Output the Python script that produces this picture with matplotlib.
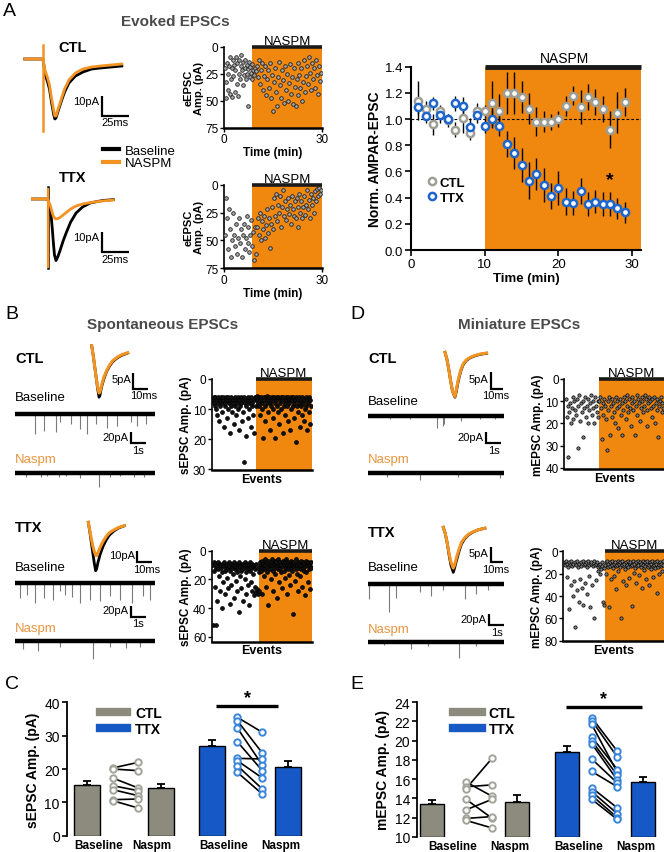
import numpy as np
import matplotlib
matplotlib.use('Agg')
import matplotlib.pyplot as plt
from matplotlib.lines import Line2D

# ======================= DATA =======================
# --- Panel A: evoked EPSC example traces (time ms, current pA) ---
evk_ctl_t = [-17, -1, 0, 2, 4, 6, 8, 10, 11, 12, 14, 17, 20, 24, 30, 37, 45, 53, 63, 73]
evk_ctl_base = [0, 0, 0, -8, -11, -15, -22, -28, -30, -29.5, -26, -21, -16.5, -12, -8.5, -6.5, -5, -4.5, -4, -3.5]
evk_ctl_nas = [0, 0, 0, -6, -9, -13, -20, -26, -28.5, -28.5, -25, -20, -15, -10.5, -7, -5, -4, -3.5, -3, -2.5]
evk_ttx_t = [-14.5, -1, 0, 1, 2, 3, 4, 5, 6, 7.4, 9, 11, 14, 17, 21, 26, 32, 39, 50, 60.5]
evk_ttx_base = [0, 0, 0, -3, -5, -9, -15, -22, -28, -30.8, -29, -26, -21, -16.7, -11.5, -7, -4, -2, -0.8, -0.3]
evk_ttx_nas = [0, 0, 0, -2, -3, -5, -7, -8.5, -9.5, -10, -9.8, -9.3, -8, -6.7, -5, -3.5, -2.5, -1.8, -1, -0.5]

# --- Panel A: eEPSC amplitude vs time (min, pA) ---
eA_ctl_t = [0.3, 0.5, 0.7, 0.9, 1.1, 1.3, 1.5, 1.7, 1.9, 2.1, 2.3, 2.5, 2.7, 2.9, 3.1, 3.3, 3.5, 3.7, 3.9, 4.1,
            4.3, 4.5, 4.7, 4.9, 5.1, 5.3, 5.5, 5.7, 5.9, 6.1, 6.3, 6.5, 6.7, 6.9, 7.1, 7.3, 7.5, 7.7, 7.9, 8.1,
            8.3, 8.5, 8.7, 9.0, 9.3, 9.6, 9.9, 10.2, 10.5, 10.8, 11.1, 11.4, 11.7, 12.0, 12.3, 12.6, 12.9, 13.2,
            13.5, 13.8, 14.1, 14.4, 14.7, 15.0, 15.3, 15.6, 15.9, 16.2, 16.5, 16.8, 17.1, 17.4, 17.7, 18.0, 18.3,
            18.6, 18.9, 19.2, 19.5, 19.8, 20.1, 20.4, 20.7, 21.0, 21.3, 21.6, 21.9, 22.2, 22.5, 22.8, 23.1, 23.4,
            23.7, 24.0, 24.3, 24.6, 24.9, 25.2, 25.5, 25.8, 26.1, 26.4, 26.7, 27.0, 27.3, 27.6, 27.9, 28.2, 28.5,
            28.8, 29.1, 29.4, 29.7]
eA_ctl_amp = [20, 33, 48, 15, 40, 25, 18, 44, 10, 30, 20, 47, 12, 27, 17, 42, 22, 10, 35, 15,
              46, 25, 12, 30, 18, 8, 22, 36, 14, 26, 20, 12, 30, 17, 25, 55, 21, 14, 28, 19,
              24, 16, 30, 22, 26, 20, 23, 18, 28, 12, 35, 22, 15, 40, 27, 18, 45, 30, 22, 38,
              15, 48, 26, 60, 33, 20, 42, 55, 28, 14, 36, 48, 22, 31, 52, 18, 40, 25, 50, 34,
              16, 44, 28, 53, 20, 37, 55, 30, 15, 45, 26, 38, 20, 50, 33, 12, 42, 27, 18, 35,
              10, 24, 40, 15, 30, 20, 38, 12, 26, 44, 18, 32, 24]
eA_ttx_t = [0.3, 0.6, 0.9, 1.2, 1.5, 1.8, 2.1, 2.4, 2.7, 3.0, 3.3, 3.6, 3.9, 4.2, 4.5, 4.8, 5.1, 5.4, 5.7, 6.0,
            6.3, 6.6, 6.9, 7.2, 7.5, 7.8, 8.1, 8.4, 8.7, 9.0, 9.3, 9.6, 9.9, 10.2, 10.5, 10.8, 11.1, 11.4, 11.7,
            12.0, 12.3, 12.6, 12.9, 13.2, 13.5, 13.8, 14.1, 14.4, 14.7, 15.0, 15.3, 15.6, 15.9, 16.2, 16.5, 16.8,
            17.1, 17.4, 17.7, 18.0, 18.3, 18.6, 18.9, 19.2, 19.5, 19.8, 20.1, 20.4, 20.7, 21.0, 21.3, 21.6, 21.9,
            22.2, 22.5, 22.8, 23.1, 23.4, 23.7, 24.0, 24.3, 24.6, 24.9, 25.2, 25.5, 25.8, 26.1, 26.4, 26.7, 27.0,
            27.3, 27.6, 27.9, 28.2, 28.5, 28.8, 29.1, 29.4, 29.7]
eA_ttx_amp = [45, 12, 30, 58, 22, 40, 65, 50, 25, 45, 55, 35, 62, 48, 30, 52, 40, 65, 45, 35,
              58, 48, 28, 52, 38, 60, 45, 32, 55, 42, 68, 38, 62, 38, 30, 45, 25, 50, 33, 40,
              28, 48, 36, 22, 43, 30, 57, 35, 20, 40, 12, 28, 8, 33, 18, 25, 10, 38, 20, 5,
              28, 15, 32, 22, 12, 26, 18, 35, 10, 22, 28, 15, 30, 12, 20, 38, 8, 25, 15, 30,
              20, 10, 27, 18, 5, 22, 14, 30, 8, 18, 12, 25, 6, 15, 4, 10, 3, 8, 5]

# --- Panel A: normalized AMPAR-EPSC time course ---
norm_time = list(range(1, 30))
ctl_norm = [1.14, 1.08, 0.96, 1.06, 0.99, 0.92, 1.01, 0.89, 1.06, 1.06, 1.12, 1.06, 1.20, 1.20, 1.17,
            1.08, 0.98, 0.98, 0.98, 1.00, 1.10, 1.18, 1.09, 1.17, 1.13, 1.08, 0.92, 1.05, 1.13]
ctl_sem = [0.15, 0.06, 0.08, 0.05, 0.05, 0.06, 0.12, 0.05, 0.06, 0.05, 0.17, 0.13, 0.16, 0.16, 0.12,
           0.12, 0.11, 0.08, 0.06, 0.06, 0.08, 0.07, 0.13, 0.10, 0.10, 0.10, 0.14, 0.16, 0.11]
ttx_norm = [1.09, 1.02, 1.12, 1.03, 1.00, 1.12, 1.10, 0.94, 1.03, 0.95, 1.00, 0.95, 0.81, 0.74, 0.65,
            0.53, 0.58, 0.50, 0.41, 0.47, 0.37, 0.36, 0.45, 0.35, 0.37, 0.35, 0.35, 0.32, 0.29]
ttx_sem = [0.05, 0.05, 0.05, 0.06, 0.04, 0.06, 0.07, 0.07, 0.06, 0.06, 0.07, 0.08, 0.10, 0.12, 0.13,
           0.14, 0.12, 0.13, 0.10, 0.13, 0.10, 0.09, 0.10, 0.09, 0.09, 0.09, 0.09, 0.08, 0.08]

# --- Panels B/D: averaged mini traces (ms, pA) ---
sB_t = [0, 1, 2, 3, 4, 4.9, 5.5, 6.5, 8, 10, 12, 14, 17, 20, 24]
sB_ctl_base = [0, -3, -6.5, -10, -13.5, -16.1, -15.5, -13, -10.5, -8, -6.3, -5, -3.8, -3, -2.3]
sB_ctl_nas = [0, -3, -6.5, -10, -13, -14.8, -14.5, -12.5, -10, -7.7, -6, -4.7, -3.6, -2.8, -2.2]
sB_ttx_base = [0, -8, -17, -26, -35, -41.4, -40, -34, -27, -20, -15, -11, -7.5, -5, -3]
sB_ttx_nas = [0, -7, -14, -20, -25, -28, -28.5, -26, -21, -16, -12, -9, -6.5, -4.5, -2.9]
mD_t = [0, 1.5, 3, 4.5, 6, 7.9, 9, 10.5, 12.5, 14.5, 17, 20, 24, 28, 33]
mD_ctl_base = [0, -2, -5, -8.5, -11.5, -13.2, -11.5, -8.5, -5.5, -3.6, -2.4, -1.6, -1, -0.6, -0.3]
mD_ctl_nas = [0, -2, -5, -8.5, -11.5, -13.0, -11, -8, -5.2, -3.4, -2.2, -1.5, -0.9, -0.5, -0.2]
mD_ttx_base = [0, -2, -5, -9, -12.5, -15, -13.5, -11, -8, -5.5, -3.8, -2.5, -1.5, -0.8, -0.3]
mD_ttx_nas = [0, -2, -5, -8.5, -11.5, -13.6, -12.5, -10, -7.3, -5, -3.5, -2.3, -1.4, -0.8, -0.3]

# --- Panels B/D: event times (s) and amplitudes (pA) in the continuous recordings ---
B_ctl_base_t = [1.3, 1.9, 2.7, 3.0, 3.7, 4.3, 4.8, 5.4, 6.1, 6.8, 7.7, 8.1, 8.7]
B_ctl_base_a = [36, 30, 33, 14, 18, 27, 36, 18, 25, 21, 14, 22, 18]
B_ctl_nas_t = [0.7, 1.7, 2.1, 2.9, 3.4, 4.3, 5.6, 6.3, 7.0, 7.9, 8.6]
B_ctl_nas_a = [9, 8, 6, 9, 6, 10, 27, 8, 6, 9, 8]
B_ttx_base_t = [0.33, 0.78, 1.33, 1.9, 2.56, 3.0, 3.33, 3.78, 4.33, 5.0, 5.67, 6.33, 7.0, 7.78, 8.56, 9.0]
B_ttx_base_a = [28, 22, 36, 27, 30, 15, 22, 25, 36, 30, 33, 24, 30, 36, 24, 30]
B_ttx_nas_t = [0.55, 1.55, 3.0, 5.2, 6.3, 7.4, 8.3]
B_ttx_nas_a = [15, 18, 10, 33, 10, 12, 10]
D_ctl_base_t = [1.5, 2.8, 4.6, 5.0, 5.1, 6.2, 7.5, 8.5]
D_ctl_base_a = [6, 6, 22, 18, 15, 9, 6, 6]
D_ctl_nas_t = [1.3, 3.5, 6.0, 8.8]
D_ctl_nas_a = [8, 13, 9, 10]
D_ttx_base_t = [0.13, 1.42, 1.9, 3.47, 4.25, 5.0, 6.47, 7.25, 8.0]
D_ttx_base_a = [27, 51, 25, 15, 22, 10, 27, 18, 10]
D_ttx_nas_t = [1.1, 2.9, 4.0, 6.1, 7.2]
D_ttx_nas_a = [6, 13, 8, 29, 7]

# --- Panels B/D: event amplitude scatter (pA), baseline then NASPM ---
B_ctl_base = [7, 6, 8, 9, 6, 10, 7, 12, 8, 6, 14, 7, 9, 6, 8, 11, 7, 6, 16, 9,
              8, 6, 7, 13, 10, 6, 8, 7, 18, 9, 6, 11, 7, 8, 15, 6, 9, 7, 12, 8,
              6, 10, 17, 7, 9, 6, 8, 14, 7, 11, 27.5, 6, 8, 9, 19, 7, 6, 13, 8, 10,
              7, 16, 6, 9, 8, 12, 7, 18, 6, 9]
B_ctl_nas = [6, 7, 5.5, 8, 9, 6, 12, 7, 6, 10, 8, 19.5, 6, 7, 9, 14, 6, 8, 5.5, 11,
             7, 6, 17, 8, 9, 6, 7, 13, 10, 6, 19.5, 8, 7, 6, 9, 11, 6, 15, 7, 8,
             6, 10, 7, 18, 6, 9, 8, 12, 7, 6, 9, 14, 6, 7, 8, 17, 6, 10, 7, 9,
             6, 13, 8, 7, 21, 6, 9, 11, 7, 8, 6, 16, 7, 9, 6, 12, 8, 14, 7, 10,
             6, 9, 17, 7, 8, 11, 6, 15, 7, 9]
B_ttx_base = [52, 10, 8, 14, 25, 9, 12, 52, 11, 35, 8, 13, 18, 9, 28, 12, 10, 40, 15, 9,
              22, 11, 8, 14, 30, 10, 13, 9, 19, 12, 26, 8, 11, 37, 14, 9, 24, 12, 10, 16,
              8, 33, 13, 11, 21, 9, 15, 28, 10, 12, 43, 8, 18, 11, 14, 26, 9, 13, 35, 10,
              12, 20, 8, 15, 30, 11, 9, 24, 13, 10, 38, 14, 8, 22, 12, 28, 9, 16, 11, 31,
              10, 25, 13, 29, 9, 27, 12, 30, 15, 28]
B_ttx_nas = [10, 8, 14, 12, 30, 7, 11, 9, 18, 13, 6, 10, 25, 8, 12, 15, 7, 38, 9, 11,
             13, 20, 8, 10, 6, 14, 28, 9, 12, 7, 16, 10, 8, 33, 11, 13, 6, 22, 9, 12,
             8, 15, 10, 26, 7, 11, 14, 9, 19, 8, 12, 6, 30, 10, 13, 8, 17, 11, 9, 24,
             7, 12, 10, 14, 44, 8, 11, 21, 9, 13, 6, 16, 10, 8, 28, 12, 9, 11, 18, 7,
             13, 10, 25, 8, 12, 14, 9, 31, 11, 7, 15, 10, 22, 8, 13, 9, 27, 11, 12, 8]
D_ctl_base = [9, 17, 12, 35, 15, 11, 20, 13, 8, 18, 10, 14, 16, 9, 31, 12, 7, 19, 11, 15,
              26, 10, 13, 8, 17, 12, 20, 9, 14, 11, 7, 16, 10, 13, 20, 8, 12, 15, 17, 10]
D_ctl_nas = [10, 8, 13, 27, 11, 16, 9, 12, 18, 32, 10, 14, 8, 25, 12, 17, 9, 11, 15, 20,
             8, 13, 10, 22, 12, 9, 16, 11, 25, 14, 8, 10, 18, 12, 7, 15, 9, 13, 21, 11,
             8, 14, 10, 25, 12, 7, 16, 9, 11, 19, 13, 8, 10, 15, 12, 7, 9, 14, 21, 11,
             8, 10, 13, 17, 9, 12, 8, 20, 11, 14, 9, 26, 12, 10, 8, 15, 11, 13]
D_ttx_base = [10, 12, 9, 23, 11, 14, 10, 52, 12, 30, 9, 13, 40, 11, 27, 10, 68, 12, 35, 9,
              14, 45, 11, 25, 10, 13, 33, 9, 48, 12, 11, 28, 10, 38, 14, 9, 22, 12, 50, 11,
              10, 30, 13, 9, 60, 12, 11, 26, 10, 14, 18, 12, 20, 11, 16, 13, 10, 45, 15, 48]
D_ttx_nas = [12, 10, 20, 9, 14, 11, 50, 13, 10, 25, 12, 9, 15, 11, 22, 10, 13, 34, 12, 9,
             18, 11, 14, 10, 60, 12, 9, 27, 13, 11, 16, 10, 30, 12, 9, 14, 24, 11, 10, 13,
             49, 12, 9, 19, 11, 15, 10, 28, 13, 9, 12, 21, 10, 14, 11, 33, 9, 12, 17, 10,
             13, 25, 11, 9, 14, 12, 30, 10, 16, 11, 9, 13, 23, 12, 10, 15, 11, 37, 9, 14,
             12, 20, 10, 13, 11, 18, 9, 12]

# --- Panel C: sEPSC amplitude (pA) ---
C_groups = ['Baseline', 'Naspm', 'Baseline', 'Naspm']
C_means = [15.3, 14.4, 26.9, 20.7]
C_sem = [1.2, 1.2, 1.9, 1.7]
C_ctl_pairs = [(20.3, 22.0), (20.0, 19.5), (17.3, 14.3), (15.0, 13.5), (13.8, 12.0), (10.8, 11.0), (10.5, 8.3)]
C_ttx_pairs = [(35.5, 31.0), (34.5, 24.8), (32.3, 21.2), (28.2, 19.5), (23.2, 23.0), (22.5, 17.3), (21.0, 14.0), (19.0, 12.5)]
# --- Panel E: mEPSC amplitude (pA) ---
E_means = [13.4, 13.6, 18.8, 15.7]
E_sem = [0.45, 0.7, 0.65, 0.5]
E_ctl_pairs = [(15.7, 14.2), (15.2, 15.4), (15.0, 18.2), (13.9, 11.9), (12.8, 13.9), (11.9, 12.1), (11.7, 10.9)]
E_ttx_pairs = [(22.4, 18.9), (22.1, 18.3), (21.7, 16.7), (20.4, 17.0), (20.0, 16.4), (19.7, 15.9),
               (18.1, 15.6), (16.8, 15.2), (15.1, 13.0), (14.7, 12.4), (14.3, 12.0), (13.9, 11.8)]

# ======================= STYLE =======================
ORANGE = '#F0870F'
TR_OR = '#F39322'
TXT_OR = '#E8953F'
GRAY = '#8C8B7D'
BLUE = '#1659C6'
CTL_EDGE = '#9E9E95'
TTX_EDGE = '#1E66CC'
DOT_BLUE = '#3A86DB'
TITLE_GRAY = '#4A4A4A'

plt.rcParams['font.family'] = ['Liberation Sans', 'DejaVu Sans']
plt.rcParams['axes.linewidth'] = 1.2

W, H = 664.0, 853.0
fig = plt.figure(figsize=(W / 100, H / 100), dpi=100)


def px_axes(x0, y0, x1, y1):
    return fig.add_axes([x0 / W, 1 - y1 / H, (x1 - x0) / W, (y1 - y0) / H])


def ftext(x, y, s, **kw):
    return fig.text(x / W, 1 - y / H, s, **kw)


def trace_axes(box, origin, sx, sy):
    x0, y0, x1, y1 = box
    ox, oy = origin
    ax = px_axes(x0, y0, x1, y1)
    ax.set_xlim((x0 - ox) / sx, (x1 - ox) / sx)
    ax.set_ylim(-(y1 - oy) / sy, -(y0 - oy) / sy)
    ax.set_axis_off()
    ax.patch.set_visible(False)
    return ax


def scalebar(ax, x, ylo, dx, dy, ylab, xlab, fs=8, yfrac=0.55, xoff=0.0):
    ax.plot([x, x, x + dx], [ylo + dy, ylo, ylo], color='k', lw=1.6,
            solid_joinstyle='miter', solid_capstyle='butt', clip_on=False)
    ax.annotate(ylab, (x, ylo + dy * yfrac), xytext=(-1.5, 0), textcoords='offset points',
                ha='right', va='center', fontsize=fs)
    ax.annotate(xlab, (x + dx / 2, ylo), xytext=(xoff, -1.0), textcoords='offset points',
                ha='center', va='top', fontsize=fs)


def long_trace(x0, x1, yb, st, sa, box_bottom=50):
    sx, sy = 15.0, 0.55
    ax = trace_axes((x0 - 3, yb - 25, x1 + 3, yb + box_bottom), (x0, yb), sx, sy)
    T = (x1 - x0) / sx
    ax.vlines(st, [-a for a in sa], 0, color='#7a7a7a', lw=0.8)
    ax.plot([0, T], [0, 0], color='k', lw=3.2, solid_capstyle='butt')
    return ax


def event_scatter(box, base, nas, ymax, yticks, ylabel, color, edge, ms):
    ax = px_axes(*box)
    n1 = len(base)
    n = n1 + len(nas)
    ax.set_xlim(-2, n)
    ax.set_ylim(ymax, 0)
    ax.axvspan(n1 - 0.5, n, color=ORANGE, lw=0, zorder=0)
    ax.plot(np.arange(n1), base, 'o', ms=ms, mfc=color, mec=edge, mew=0.5, zorder=3)
    ax.plot(np.arange(n1, n), nas, 'o', ms=ms, mfc=color, mec=edge, mew=0.5, zorder=3)
    ax.plot([n1 - 0.5, n], [0, 0], color='#1a1a1a', lw=2.6, clip_on=False, solid_capstyle='butt', zorder=4)
    ax.text((n1 + n) / 2, 0, 'NASPM', ha='center', va='bottom', fontsize=9.5)
    for s in ['top', 'right']:
        ax.spines[s].set_visible(False)
    ax.spines['bottom'].set_linewidth(1.8)
    ax.set_xticks([])
    ax.set_yticks(yticks)
    ax.tick_params(axis='y', length=3, width=1, labelsize=8.5, pad=1)
    ax.set_ylabel(ylabel, fontsize=8.5, fontweight='bold', labelpad=1)
    ax.set_xlabel('Events', fontsize=9, fontweight='bold', labelpad=2)
    return ax


# ======================= PANEL A =======================
ftext(3, 12, 'A', fontsize=14, va='center', ha='left')
ftext(175, 22, 'Evoked EPSCs', fontsize=11, fontweight='bold', color=TITLE_GRAY, ha='center', va='center')
ftext(73, 48, 'CTL', fontsize=10.5, fontweight='bold', ha='center', va='center')
ftext(73, 178, 'TTX', fontsize=10.5, fontweight='bold', ha='center', va='center')

axe1 = trace_axes((18, 40, 142, 140), (43, 60), 1.08, 2.0)
axe1.plot(evk_ctl_t, evk_ctl_base, color='k', lw=2.0)
axe1.plot(evk_ctl_t, evk_ctl_nas, color=TR_OR, lw=2.0)
axe1.plot([0, 0], [7, -36], color=TR_OR, lw=1.8)
scalebar(axe1, 54.3, -28.3, 25, 10, '10pA', '25ms', fs=8, yfrac=0.75)

axe2 = trace_axes((18, 180, 142, 280), (48, 200), 1.08, 2.0)
axe2.plot([0, 0], [6, -34.5], color='k', lw=1.8)
axe2.plot(evk_ttx_t, evk_ttx_base, color='k', lw=2.0)
axe2.plot(evk_ttx_t, evk_ttx_nas, color=TR_OR, lw=2.0)
axe2.plot([0.3, 0.3], [5, -34], color=TR_OR, lw=1.6)
scalebar(axe2, 49.7, -26.7, 25, 10, '10pA', '25ms', fs=8, yfrac=0.75)

fig.legend(handles=[Line2D([], [], color='k', lw=3), Line2D([], [], color=TR_OR, lw=3)],
           labels=['Baseline', 'NASPM'], loc='center left', bbox_to_anchor=(103 / W, 1 - 158 / H),
           frameon=False, fontsize=9.5, handlelength=1.2, handletextpad=0.45, labelspacing=0.0,
           borderpad=0, borderaxespad=0)

for box, t, a in [((224, 47.7, 322, 128.5), eA_ctl_t, eA_ctl_amp),
                  ((224, 185.7, 322, 269.3), eA_ttx_t, eA_ttx_amp)]:
    ax = px_axes(*box)
    ax.set_xlim(0, 30)
    ax.set_ylim(75, 0)
    ax.axvspan(8.7, 30, color=ORANGE, lw=0, zorder=0)
    ax.plot(t, a, 'o', ms=2.6, mfc='#A8A8A8', mec='#202020', mew=0.6, zorder=3)
    ax.plot([8.7, 30], [0, 0], color='#1a1a1a', lw=2.6, clip_on=False, solid_capstyle='butt', zorder=4)
    ax.text(19.4, 0, 'NASPM', ha='center', va='bottom', fontsize=9.5)
    for s in ['top', 'right']:
        ax.spines[s].set_visible(False)
    ax.spines['bottom'].set_linewidth(1.8)
    ax.set_xticks([0, 30])
    ax.set_yticks([0, 25, 50, 75])
    ax.tick_params(length=3, width=1, labelsize=8.5, pad=1)
    ax.set_ylabel('eEPSC\nAmp. (pA)', fontsize=8, fontweight='bold', labelpad=1, linespacing=1.0)
    ax.set_xlabel('Time (min)', fontsize=8.5, fontweight='bold', labelpad=1)

axR = px_axes(411, 67.7, 641, 251)
axR.set_xlim(0, 31.2)
axR.set_ylim(0, 1.4)
axR.axvspan(10, 31.2, color=ORANGE, lw=0, zorder=0)
axR.plot([10, 31.2], [1.4, 1.4], color='#1a1a1a', lw=3.5, clip_on=False, solid_capstyle='butt', zorder=4)
axR.text(20.8, 1.415, 'NASPM', ha='center', va='bottom', fontsize=10)
axR.axhline(1.0, color='k', lw=0.8, ls=(0, (2.5, 1.8)), zorder=1)
axR.errorbar(norm_time, ctl_norm, yerr=ctl_sem, fmt='none', ecolor='k', elinewidth=1.0, zorder=2)
axR.errorbar(norm_time, ttx_norm, yerr=ttx_sem, fmt='none', ecolor='k', elinewidth=1.0, zorder=2)
axR.plot(norm_time, ctl_norm, 'o', ms=5.2, mfc='white', mec=CTL_EDGE, mew=1.8, zorder=3)
axR.plot(norm_time, ttx_norm, 'o', ms=5.2, mfc='white', mec=TTX_EDGE, mew=1.8, zorder=3)
axR.text(27, 0.47, '*', fontsize=14, fontweight='bold', ha='center', va='bottom')
for s in ['top', 'right']:
    axR.spines[s].set_visible(False)
axR.spines['left'].set_linewidth(1.5)
axR.spines['bottom'].set_linewidth(1.5)
axR.set_xticks([0, 10, 20, 30])
axR.set_yticks(np.arange(0, 1.41, 0.2))
axR.yaxis.set_major_formatter(matplotlib.ticker.FormatStrFormatter('%.1f'))
axR.tick_params(length=4, width=1.2, labelsize=9.5, pad=1.5)
axR.set_ylabel('Norm. AMPAR-EPSC', fontsize=10, fontweight='bold', labelpad=2)
axR.set_xlabel('Time (min)', fontsize=9.5, fontweight='bold', labelpad=2)
leg = axR.legend(handles=[Line2D([], [], ls='', marker='o', ms=5.2, mfc='white', mec=CTL_EDGE, mew=1.8),
                          Line2D([], [], ls='', marker='o', ms=5.2, mfc='white', mec=TTX_EDGE, mew=1.8)],
                 labels=['CTL', 'TTX'], loc='center left', bbox_to_anchor=(0.068, 0.327),
                 frameon=False, handlelength=0.8, handletextpad=0.2, labelspacing=0.2,
                 borderpad=0, borderaxespad=0, prop={'size': 9.5, 'weight': 'bold'})

# ======================= PANEL B =======================
ftext(5, 315, 'B', fontsize=14, va='center', ha='left')
ftext(163, 325, 'Spontaneous EPSCs', fontsize=11, fontweight='bold', color=TITLE_GRAY, ha='center', va='center')
ftext(15, 359, 'CTL', fontsize=10.5, fontweight='bold', ha='left', va='center')
ftext(15, 398, 'Baseline', fontsize=9.5, ha='left', va='center')
ftext(15, 460, 'Naspm', fontsize=9.5, ha='left', va='center', color=TXT_OR)
ftext(15, 528, 'TTX', fontsize=10.5, fontweight='bold', ha='left', va='center')
ftext(15, 568, 'Baseline', fontsize=9.5, ha='left', va='center')
ftext(15, 629, 'Naspm', fontsize=9.5, ha='left', va='center', color=TXT_OR)

ax = trace_axes((85, 340, 160, 410), (91.7, 346.7), 1.5, 3.2)
ax.plot(sB_t, sB_ctl_base, color='k', lw=2.0)
ax.plot(sB_t, sB_ctl_nas, color=TR_OR, lw=2.2)
scalebar(ax, 27.7, -13.5, 10, 5, '5pA', '10ms', fs=8, yfrac=0.6, xoff=2)

ax = trace_axes((82, 515, 160, 580), (88.3, 523.3), 1.5, 1.17)
ax.plot(sB_t, sB_ttx_base, color='k', lw=2.0)
ax.plot(sB_t, sB_ttx_nas, color=TR_OR, lw=2.2)
scalebar(ax, 32.3, -34.3, 10, 10, '10pA', '10ms', fs=8, yfrac=0.6, xoff=2)

ax = long_trace(15, 155, 415, B_ctl_base_t, B_ctl_base_a)
scalebar(ax, 7.7, -53, 1, 20, '20pA', '1s', fs=8, yfrac=0.6)
long_trace(15, 155, 473.5, B_ctl_nas_t, B_ctl_nas_a, box_bottom=30)
ax = long_trace(15, 155, 584, B_ttx_base_t, B_ttx_base_a)
scalebar(ax, 7.7, -62, 1, 20, '20pA', '1s', fs=8, yfrac=0.6)
long_trace(15, 155, 642, B_ttx_nas_t, B_ttx_nas_a, box_bottom=30)

event_scatter((211.7, 380, 311.7, 471), B_ctl_base, B_ctl_nas, 30.3, [0, 10, 20, 30],
              'sEPSC Amp. (pA)', '#111111', '#000000', 2.8)
event_scatter((211.7, 551.7, 311.7, 642.7), B_ttx_base, B_ttx_nas, 63.5, [0, 20, 40, 60],
              'sEPSC Amp. (pA)', '#111111', '#000000', 2.8)

# ======================= PANEL D =======================
ftext(350, 315, 'D', fontsize=14, va='center', ha='left')
ftext(519, 325, 'Miniature EPSCs', fontsize=11, fontweight='bold', color=TITLE_GRAY, ha='center', va='center')
ftext(368, 359, 'CTL', fontsize=10.5, fontweight='bold', ha='left', va='center')
ftext(368, 402, 'Baseline', fontsize=9.5, ha='left', va='center')
ftext(368, 460, 'Naspm', fontsize=9.5, ha='left', va='center', color=TXT_OR)
ftext(368, 533, 'TTX', fontsize=10.5, fontweight='bold', ha='left', va='center')
ftext(368, 568, 'Baseline', fontsize=9.5, ha='left', va='center')
ftext(368, 630, 'Naspm', fontsize=9.5, ha='left', va='center', color=TXT_OR)

ax = trace_axes((438, 345, 510, 405), (445, 353.3), 1.26, 3.4)
ax.plot(mD_t, mD_ctl_base, color='k', lw=2.0)
ax.plot(mD_t, mD_ctl_nas, color=TR_OR, lw=2.2)
scalebar(ax, 36.3, -10.8, 10, 5, '5pA', '10ms', fs=8, yfrac=0.6, xoff=-1)

ax = trace_axes((436, 520, 510, 580), (443.3, 528.3), 1.26, 3.0)
ax.plot(mD_t, mD_ttx_base, color='k', lw=2.0)
ax.plot(mD_t, mD_ttx_nas, color=TR_OR, lw=2.2)
scalebar(ax, 37.6, -11.7, 10, 5, '5pA', '10ms', fs=8, yfrac=0.6, xoff=-1)

ax = long_trace(367.5, 504, 416.7, D_ctl_base_t, D_ctl_base_a)
scalebar(ax, 7.9, -50, 1, 20, '20pA', '1s', fs=8, yfrac=0.6)
long_trace(367.5, 504, 473.5, D_ctl_nas_t, D_ctl_nas_a, box_bottom=30)
ax = long_trace(367.5, 504, 585, D_ttx_base_t, D_ttx_base_a, box_bottom=60)
scalebar(ax, 8.1, -75, 1, 20, '20pA', '1s', fs=8, yfrac=0.6)
long_trace(367.5, 504, 642.7, D_ttx_nas_t, D_ttx_nas_a, box_bottom=30)

event_scatter((564.3, 380, 664, 470), D_ctl_base, D_ctl_nas, 40.5, [0, 10, 20, 30, 40],
              'mEPSC Amp. (pA)', '#7a7a7a', '#000000', 2.4)
event_scatter((563.3, 552.3, 664, 642.3), D_ttx_base, D_ttx_nas, 80.5, [0, 20, 40, 60, 80],
              'mEPSC Amp. (pA)', '#7a7a7a', '#000000', 2.4)


# ======================= PANELS C & E =======================
def bar_panel(box, xlim, ylim, yticks, means, sems, ctl_pairs, ttx_pairs, bar_x, dot_x, lab_x,
              bar_w, ylabel, sig_x, sig_y, leg_anchor, leg_hl, leg_tp):
    ax = px_axes(*box)
    ax.set_xlim(*xlim)
    ax.set_ylim(*ylim)
    base = ylim[0]
    cols = [GRAY, GRAY, BLUE, BLUE]
    ax.bar(bar_x, [m - base for m in means], bottom=base, width=bar_w, color=cols,
           edgecolor='k', lw=1.0, zorder=2)
    ax.errorbar(bar_x, means, yerr=[[0] * 4, sems], fmt='none', ecolor='k', elinewidth=1.3,
                capsize=3, capthick=1.3, zorder=1)
    for pairs, xs, ec in [(ctl_pairs, dot_x[0], '#A3A39A'), (ttx_pairs, dot_x[1], DOT_BLUE)]:
        for b, n in pairs:
            ax.plot(xs, [b, n], color='k', lw=1.2, zorder=3)
        ax.plot([xs[0]] * len(pairs), [p[0] for p in pairs], 'o', ms=4.6, mfc='white', mec=ec, mew=1.4, zorder=4)
        ax.plot([xs[1]] * len(pairs), [p[1] for p in pairs], 'o', ms=4.6, mfc='white', mec=ec, mew=1.4, zorder=4)
    ax.plot(sig_x, [sig_y, sig_y], color='k', lw=2.4, solid_capstyle='butt', clip_on=False)
    ax.text(sum(sig_x) / 2, sig_y, '*', fontsize=13, fontweight='bold', ha='center', va='bottom')
    for s in ['top', 'right', 'bottom']:
        ax.spines[s].set_visible(False)
    ax.spines['left'].set_linewidth(1.3)
    ax.set_yticks(yticks)
    ax.set_xticks(lab_x)
    ax.set_xticklabels(C_groups, fontsize=8.5, fontweight='bold')
    ax.tick_params(axis='x', length=0, pad=2.5)
    ax.tick_params(axis='y', length=3.5, width=1.2, labelsize=10, pad=1.5)
    ax.set_ylabel(ylabel, fontsize=10, fontweight='bold', labelpad=3)
    ax.legend(handles=[Line2D([], [], color=GRAY, lw=6), Line2D([], [], color=BLUE, lw=6)],
              labels=['CTL', 'TTX'], loc='center left', bbox_to_anchor=leg_anchor,
              bbox_transform=ax.transData, frameon=False, handlelength=leg_hl, handletextpad=leg_tp,
              labelspacing=0.15, borderpad=0, borderaxespad=0, prop={'size': 10, 'weight': 'bold'})
    return ax


ftext(5, 685, 'C', fontsize=14, va='center', ha='left')
bar_panel((66.7, 703.3, 310, 836.7), (66.7, 310), (0, 40), [0, 10, 20, 30, 40],
          C_means, C_sem, C_ctl_pairs, C_ttx_pairs,
          bar_x=[87, 161, 212, 288], dot_x=[(112.7, 138.3), (237.3, 262.3)],
          lab_x=[99, 152, 224, 281], bar_w=26, ylabel='sEPSC Amp. (pA)',
          sig_x=[216, 278], sig_y=38.9, leg_anchor=(100, 34.4), leg_hl=1.95, leg_tp=0.58)

ftext(350, 685, 'E', fontsize=14, va='center', ha='left')
bar_panel((417.3, 703.3, 664, 837.7), (417.3, 664), (10, 24), list(range(10, 25, 2)),
          E_means, E_sem, E_ctl_pairs, E_ttx_pairs,
          bar_x=[432.3, 517, 566.5, 642.5], dot_x=[(466, 492.3), (591.7, 617.3)],
          lab_x=[453, 510.3, 578.3, 636], bar_w=24, ylabel='mEPSC Amp. (pA)',
          sig_x=[565.7, 642], sig_y=23.55, leg_anchor=(453, 22.05), leg_hl=2.1, leg_tp=0.45)

fig.savefig('out.png', dpi=100)
